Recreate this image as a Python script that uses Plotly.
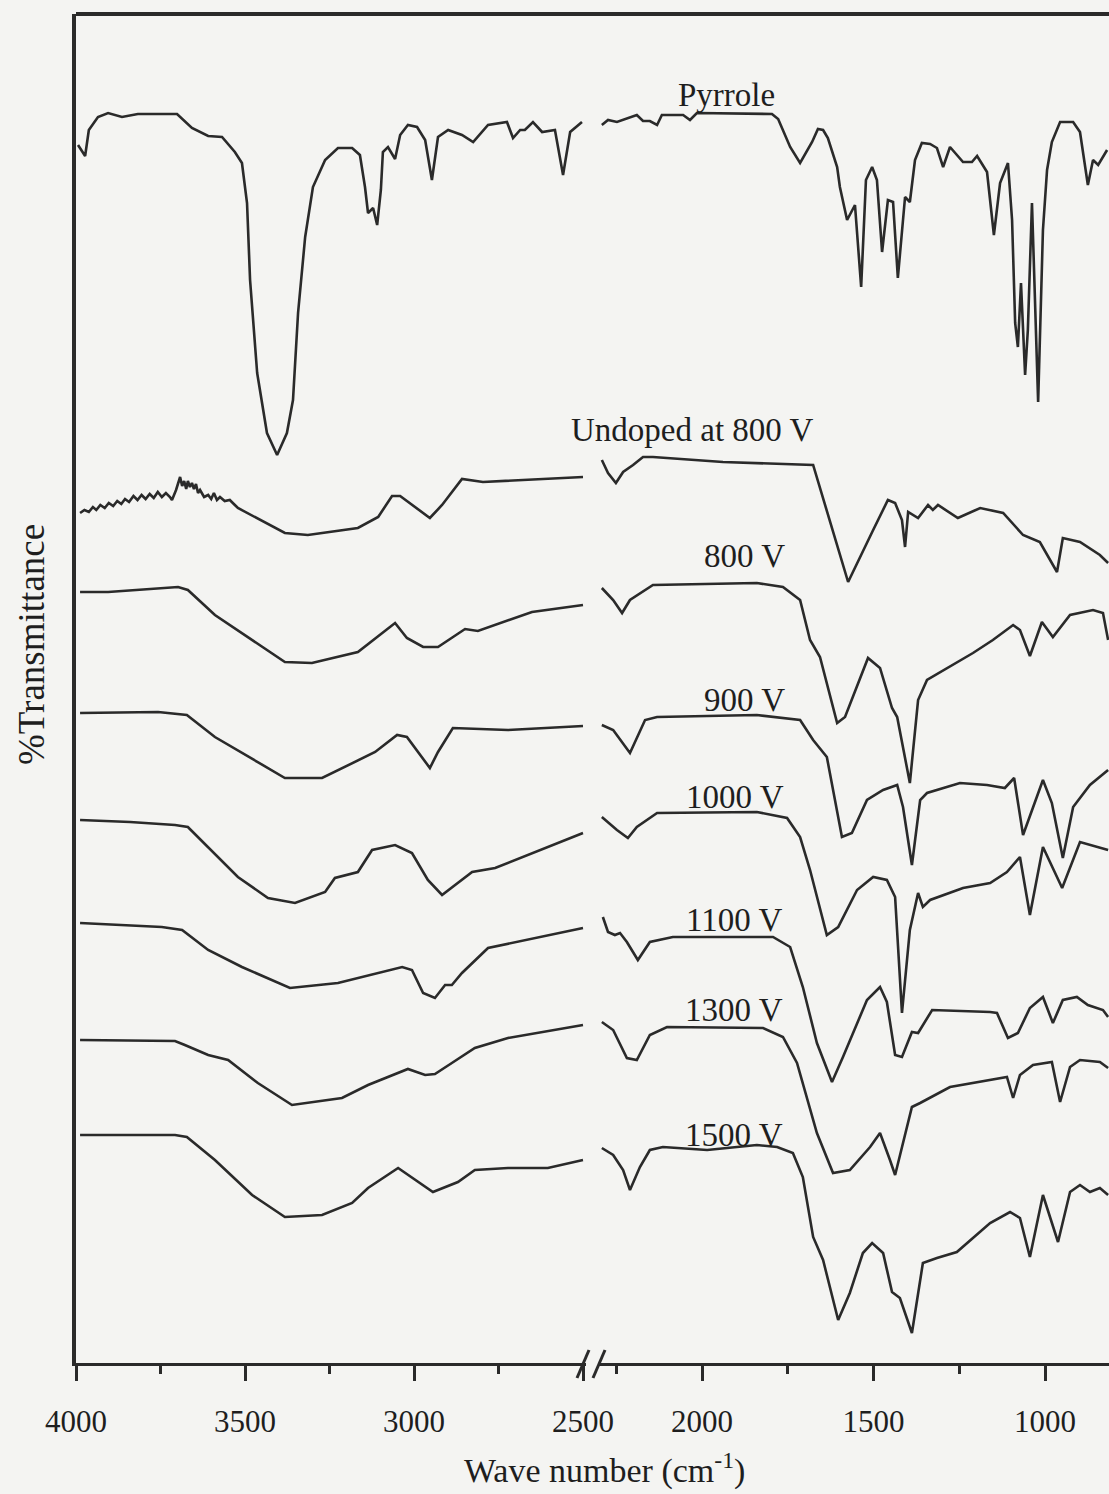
import plotly.graph_objects as go

# ---------------- data (wavenumber cm-1, transmittance a.u.) ----------------
PYR_L_WN = [3994, 3973, 3962, 3935, 3905, 3864, 3817, 3701, 3657, 3609, 3568, 3530, 3509, 3494, 3485, 3464, 3435, 3405, 3376, 3358, 3343, 3322, 3299, 3263, 3225, 3183, 3160, 3145, 3136, 3121, 3109, 3098, 3092, 3077, 3056, 3041, 3018, 2991, 2967, 2947, 2929, 2899, 2858, 2825, 2781, 2725, 2707, 2686, 2672, 2648, 2621, 2583, 2559, 2538, 2503]
PYR_L_T = [1218, 1207, 1233, 1246, 1250, 1246, 1249, 1249, 1235, 1227, 1226, 1211, 1200, 1160, 1083, 990, 930, 908, 930, 963, 1050, 1126, 1176, 1203, 1215, 1215, 1208, 1176, 1150, 1155, 1138, 1173, 1211, 1216, 1204, 1228, 1238, 1236, 1223, 1183, 1226, 1233, 1228, 1221, 1238, 1241, 1225, 1233, 1233, 1241, 1231, 1233, 1188, 1231, 1241]
PYR_R_WN = [2292, 2274, 2248, 2190, 2172, 2152, 2131, 2117, 2055, 2035, 2015, 1796, 1778, 1743, 1714, 1679, 1662, 1647, 1633, 1606, 1598, 1577, 1554, 1536, 1522, 1504, 1490, 1475, 1458, 1443, 1429, 1408, 1394, 1379, 1359, 1335, 1315, 1297, 1277, 1239, 1213, 1198, 1169, 1149, 1131, 1108, 1096, 1087, 1079, 1070, 1058, 1050, 1038, 1020, 1006, 994, 980, 956, 918, 898, 875, 860, 845, 819]
PYR_R_T = [1238, 1243, 1241, 1248, 1242, 1242, 1238, 1248, 1248, 1243, 1250, 1249, 1244, 1216, 1200, 1221, 1234, 1233, 1225, 1196, 1176, 1143, 1158, 1076, 1183, 1196, 1183, 1111, 1163, 1161, 1085, 1166, 1161, 1203, 1220, 1219, 1215, 1196, 1216, 1201, 1201, 1207, 1191, 1128, 1180, 1200, 1143, 1040, 1016, 1080, 988, 1033, 1160, 961, 1133, 1193, 1221, 1241, 1241, 1231, 1178, 1203, 1198, 1213]

UND_L_WN = [3988, 3975, 3962, 3950, 3940, 3928, 3915, 3903, 3890, 3878, 3866, 3855, 3843, 3830, 3818, 3806, 3794, 3782, 3770, 3758, 3746, 3734, 3722, 3716, 3704, 3698, 3692, 3686, 3680, 3674, 3669, 3663, 3657, 3651, 3645, 3639, 3633, 3621, 3609, 3600, 3592, 3583, 3574, 3560, 3545, 3530, 3521, 3382, 3314, 3166, 3106, 3065, 3041, 2953, 2917, 2858, 2796, 2500]
UND_L_T = [850, 853, 851, 856, 853, 858, 855, 860, 857, 862, 859, 864, 861, 867, 863, 868, 864, 869, 865, 871, 866, 870, 866, 863, 873, 880, 886, 877, 882, 874, 882, 876, 880, 874, 879, 870, 873, 866, 868, 864, 870, 863, 866, 862, 863, 858, 855, 830, 828, 835, 846, 867, 867, 845, 858, 884, 881, 886]
UND_R_WN = [2292, 2274, 2251, 2230, 2201, 2172, 2143, 1939, 1676, 1574, 1501, 1458, 1437, 1417, 1408, 1399, 1370, 1341, 1327, 1312, 1254, 1189, 1122, 1064, 1015, 965, 948, 898, 840, 816]
UND_R_T = [903, 890, 880, 891, 898, 906, 906, 901, 898, 781, 833, 863, 860, 843, 816, 851, 845, 858, 853, 858, 845, 855, 850, 828, 821, 791, 825, 821, 808, 800]

V800_L_WN = [3988, 3905, 3698, 3669, 3589, 3382, 3302, 3166, 3056, 3021, 2973, 2929, 2849, 2811, 2651, 2500]
V800_L_T = [771, 771, 776, 773, 748, 701, 700, 711, 740, 725, 716, 716, 734, 732, 751, 758]
V800_R_WN = [2292, 2259, 2233, 2210, 2143, 1840, 1764, 1714, 1685, 1656, 1606, 1583, 1516, 1481, 1446, 1431, 1394, 1370, 1344, 1210, 1152, 1093, 1073, 1044, 1009, 977, 927, 860, 831, 816]
V800_R_T = [775, 763, 750, 763, 778, 780, 776, 763, 723, 706, 640, 646, 705, 695, 655, 646, 580, 663, 683, 710, 723, 738, 733, 707, 741, 726, 748, 753, 750, 723]

V900_L_WN = [3988, 3757, 3672, 3589, 3382, 3272, 3115, 3050, 3021, 2988, 2953, 2929, 2885, 2722, 2500]
V900_L_T = [650, 651, 648, 626, 585, 585, 611, 628, 626, 611, 595, 611, 635, 633, 637]
V900_R_WN = [2292, 2259, 2210, 2166, 2131, 1840, 1714, 1676, 1636, 1592, 1563, 1519, 1472, 1431, 1414, 1388, 1364, 1344, 1248, 1169, 1117, 1090, 1064, 1006, 980, 948, 918, 869, 816]
V900_R_T = [638, 633, 610, 643, 646, 648, 643, 623, 606, 526, 530, 563, 573, 578, 556, 498, 563, 570, 580, 578, 575, 585, 528, 583, 560, 505, 556, 578, 593]

V1000_L_WN = [3988, 3840, 3707, 3669, 3521, 3432, 3352, 3263, 3234, 3166, 3124, 3056, 3006, 2959, 2917, 2828, 2760, 2722, 2500]
V1000_L_T = [543, 541, 538, 536, 486, 465, 460, 471, 485, 491, 513, 518, 510, 483, 468, 491, 495, 500, 530]
V1000_R_WN = [2292, 2248, 2216, 2190, 2131, 1840, 1752, 1714, 1685, 1636, 1603, 1548, 1501, 1461, 1437, 1417, 1394, 1370, 1356, 1335, 1239, 1160, 1111, 1073, 1044, 1006, 950, 898, 816]
V1000_R_T = [546, 533, 525, 536, 550, 551, 545, 526, 493, 428, 436, 473, 486, 483, 466, 350, 433, 470, 456, 463, 475, 480, 491, 506, 448, 516, 475, 521, 513]

V1100_L_WN = [3988, 3855, 3746, 3686, 3609, 3509, 3367, 3225, 3035, 3006, 2973, 2938, 2908, 2888, 2858, 2781, 2500]
V1100_L_T = [440, 438, 436, 433, 413, 396, 375, 380, 396, 393, 370, 365, 378, 378, 390, 415, 435]
V1100_R_WN = [2289, 2274, 2254, 2239, 2219, 2187, 2152, 2085, 1793, 1743, 1706, 1665, 1621, 1589, 1519, 1481, 1461, 1437, 1417, 1388, 1370, 1329, 1160, 1140, 1108, 1079, 1044, 1006, 977, 948, 907, 875, 831, 816]
V1100_R_T = [446, 431, 428, 430, 421, 403, 421, 426, 426, 416, 376, 320, 281, 306, 363, 376, 361, 308, 306, 331, 330, 353, 351, 350, 325, 330, 355, 366, 340, 363, 366, 358, 353, 346]

V1300_L_WN = [3988, 3707, 3678, 3609, 3550, 3462, 3361, 3213, 3136, 3018, 2967, 2938, 2888, 2820, 2722, 2500]
V1300_L_T = [323, 322, 318, 308, 303, 280, 258, 265, 278, 294, 288, 289, 300, 315, 325, 338]
V1300_R_WN = [2292, 2259, 2219, 2190, 2152, 2102, 1822, 1764, 1723, 1665, 1618, 1569, 1510, 1481, 1452, 1437, 1388, 1364, 1277, 1111, 1093, 1073, 1035, 980, 956, 927, 898, 840, 816]
V1300_R_T = [341, 333, 305, 303, 328, 336, 335, 326, 300, 230, 190, 193, 216, 230, 203, 188, 256, 260, 276, 286, 265, 288, 298, 301, 261, 296, 303, 301, 295]

V1500_L_WN = [3988, 3707, 3672, 3589, 3479, 3382, 3272, 3183, 3136, 3047, 2944, 2870, 2820, 2722, 2604, 2500]
V1500_L_T = [228, 228, 226, 203, 168, 146, 148, 160, 175, 195, 171, 181, 193, 195, 195, 203]
V1500_R_WN = [2292, 2259, 2230, 2210, 2181, 2152, 2114, 1985, 1840, 1781, 1735, 1706, 1676, 1647, 1603, 1569, 1531, 1504, 1472, 1446, 1423, 1388, 1356, 1315, 1257, 1160, 1102, 1073, 1044, 1006, 962, 927, 898, 869, 840, 816]
V1500_R_T = [215, 208, 193, 173, 196, 213, 216, 213, 218, 216, 210, 186, 126, 103, 43, 70, 110, 120, 110, 71, 65, 30, 100, 105, 111, 140, 151, 145, 106, 168, 121, 171, 178, 171, 175, 168]

SERIES_NAMES = ["Pyrrole", "Undoped at 800 V", "800 V", "900 V", "1000 V", "1100 V", "1300 V", "1500 V"]
LABEL_WN = [1930, 2029, 1875, 1875, 1904, 1907, 1907, 1907]
LABEL_T = [1268, 933, 807, 663, 566, 443, 353, 228]

LEFT_TICKS = [4000, 3500, 3000, 2500]
LEFT_MINOR = [3750, 3250, 2750]
RIGHT_TICKS = [2000, 1500, 1000]
RIGHT_MINOR = [2250, 1750, 1250]

# ---------------- figure ----------------
INK = "#2a2a2a"
BG = "#f4f4f2"
FONT = "Liberation Serif, Times New Roman, serif"

series = [
    (PYR_L_WN, PYR_L_T, PYR_R_WN, PYR_R_T),
    (UND_L_WN, UND_L_T, UND_R_WN, UND_R_T),
    (V800_L_WN, V800_L_T, V800_R_WN, V800_R_T),
    (V900_L_WN, V900_L_T, V900_R_WN, V900_R_T),
    (V1000_L_WN, V1000_L_T, V1000_R_WN, V1000_R_T),
    (V1100_L_WN, V1100_L_T, V1100_R_WN, V1100_R_T),
    (V1300_L_WN, V1300_L_T, V1300_R_WN, V1300_R_T),
    (V1500_L_WN, V1500_L_T, V1500_R_WN, V1500_R_T),
]

fig = go.Figure()
for name, (lx, ly, rx, ry) in zip(SERIES_NAMES, series):
    fig.add_trace(go.Scatter(x=lx, y=ly, mode="lines", name=name, showlegend=False,
                             line=dict(color=INK, width=2.6), xaxis="x", yaxis="y"))
    fig.add_trace(go.Scatter(x=rx, y=ry, mode="lines", name=name, showlegend=False,
                             line=dict(color=INK, width=2.6), xaxis="x2", yaxis="y"))

W, H = 1109, 1494
ML, MR, MT, MB = 76, 0, 14, 131
PW = W - ML - MR
PH = H - MT - MB

left_end = (586 - ML) / PW
right_start = (598 - ML) / PW

axis_common = dict(
    showline=True, linecolor=INK, linewidth=3, ticks="outside", ticklen=15,
    tickwidth=3, tickcolor=INK, showgrid=False, zeroline=False, automargin=False,
    tickfont=dict(family=FONT, size=31, color="#1e1e1e"), ticklabelstandoff=14,
)
fig.update_layout(
    width=W, height=H, autosize=False,
    margin=dict(l=ML, r=MR, t=MT, b=MB, pad=0, autoexpand=False),
    paper_bgcolor=BG, plot_bgcolor=BG,
    font=dict(family=FONT),
    xaxis=dict(domain=[0, left_end], range=[4000, 4000 - (586 - 76) * 2.9586],
               tickvals=LEFT_TICKS, ticktext=[str(v) for v in LEFT_TICKS],
               minor=dict(tickvals=LEFT_MINOR, ticks="outside", ticklen=8,
                          tickwidth=3, tickcolor=INK),
               anchor="y", **axis_common),
    xaxis2=dict(domain=[right_start, 1], range=[2000 + (702 - 598) * 2.9155, 1000 - (1109 - 1045) * 2.9155],
                tickvals=RIGHT_TICKS, ticktext=[str(v) for v in RIGHT_TICKS],
                minor=dict(tickvals=RIGHT_MINOR, ticks="outside", ticklen=8,
                           tickwidth=3, tickcolor=INK),
                anchor="y", **axis_common),
    yaxis=dict(range=[0, PH], showline=True, linecolor=INK, linewidth=3.5,
               showticklabels=False, ticks="", showgrid=False, zeroline=False,
               anchor="x", automargin=False),
    showlegend=False,
)

# top frame line
fig.add_shape(type="line", xref="paper", yref="paper", x0=0, x1=1, y0=1, y1=1,
              line=dict(color=INK, width=4))

def px2paper_x(px):
    return (px - ML) / PW

def py2paper_y(py):
    return (H - MB - py) / PH

# axis break marks
for x0 in (577, 593):
    fig.add_shape(type="line", xref="paper", yref="paper",
                  x0=px2paper_x(x0), y0=py2paper_y(1378),
                  x1=px2paper_x(x0 + 12), y1=py2paper_y(1350),
                  line=dict(color=INK, width=3))

# series labels
for name, lx, ly in zip(SERIES_NAMES, LABEL_WN, LABEL_T):
    fig.add_annotation(x=lx, y=ly, xref="x2", yref="y", text=name, showarrow=False,
                       font=dict(family=FONT, size=33, color="#1e1e1e"),
                       xanchor="center", yanchor="middle")

# axis titles
fig.add_annotation(x=px2paper_x(604), y=py2paper_y(1468), xref="paper", yref="paper",
                   text="Wave number (cm<sup>-1</sup>)", showarrow=False,
                   font=dict(family=FONT, size=34, color="#1e1e1e"),
                   xanchor="center", yanchor="middle")
fig.add_annotation(x=px2paper_x(31), y=py2paper_y(645), xref="paper", yref="paper",
                   text="%Transmittance", textangle=-90, showarrow=False,
                   font=dict(family=FONT, size=37, color="#1e1e1e"),
                   xanchor="center", yanchor="middle")

fig.write_html("out.html", config={"responsive": False})
